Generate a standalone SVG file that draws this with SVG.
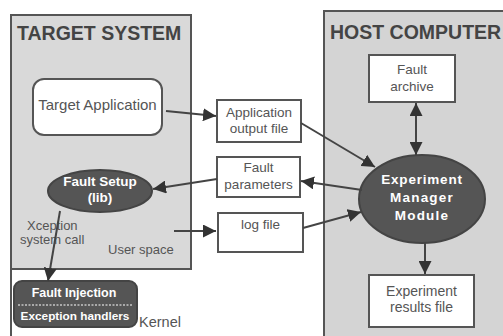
<svg xmlns="http://www.w3.org/2000/svg" width="503" height="336" viewBox="0 0 503 336">
<style>
.t{font-family:"Liberation Sans",Arial,sans-serif;fill:#555;}
.title{font-family:"Liberation Sans",Arial,sans-serif;font-weight:bold;font-size:19.5px;fill:#444;}
.w{font-family:"Liberation Sans",Arial,sans-serif;font-weight:bold;fill:#fff;}
.box{fill:#fff;stroke:#555;stroke-width:2;}
.dark{fill:#555;stroke:#444;stroke-width:2;}
.c{stroke:#444;stroke-width:2;fill:none;}
</style>
<defs>
<marker id="ah" viewBox="0 0 10 10" refX="10" refY="5" markerWidth="6.5" markerHeight="6.5" orient="auto" markerUnits="strokeWidth">
<path d="M0,0 L10,5 L0,10 z" fill="#333"/>
</marker>
<marker id="as" viewBox="0 0 10 10" refX="0" refY="5" markerWidth="6.5" markerHeight="6.5" orient="auto" markerUnits="strokeWidth">
<path d="M10,0 L0,5 L10,10 z" fill="#333"/>
</marker>
</defs>
<rect width="503" height="336" fill="#fff"/>
<g id="target-system">
<rect x="11" y="15" width="180" height="254" fill="#d9d9d9" stroke="#555" stroke-width="2"/>
<path d="M11,269 V336" stroke="#555" stroke-width="2"/>
<text class="title" x="17" y="40">TARGET SYSTEM</text>
<text class="t" x="108" y="254" font-size="13">User space</text>
<text class="t" x="27" y="230" font-size="13">Xception</text>
<text class="t" x="20" y="244" font-size="13">system call</text>
<text class="t" x="139" y="327" font-size="14.5">Kernel</text>
</g>
<g id="host-computer">
<rect x="324" y="11" width="190" height="330" fill="#d4d4d4" stroke="#555" stroke-width="2"/>
<text class="title" x="330" y="39">HOST COMPUTER</text>
</g>
<g id="target-application">
<rect class="box" x="33" y="79" width="129" height="56" rx="11"/>
<text class="t" x="97.5" y="110" font-size="15" text-anchor="middle">Target Application</text>
</g>
<g id="fault-setup">
<ellipse class="dark" cx="100" cy="191" rx="52" ry="21"/>
<text class="w" x="100" y="186" font-size="13.5" text-anchor="middle">Fault Setup</text>
<text class="w" x="100" y="202" font-size="13.5" text-anchor="middle">(lib)</text>
</g>
<g id="kernel-box">
<rect class="dark" x="14" y="281" width="123" height="46" rx="8"/>
<text class="w" x="74" y="297" font-size="12.5" text-anchor="middle">Fault Injection</text>
<line x1="18" y1="305" x2="133" y2="305" stroke="#fff" stroke-width="1.2" stroke-dasharray="2,1.5"/>
<text class="w" x="75" y="320" font-size="11.8" text-anchor="middle">Exception handlers</text>
</g>
<g id="app-output-file">
<rect class="box" x="217" y="100" width="84" height="42"/>
<text class="t" x="259" y="117" font-size="13.5" text-anchor="middle">Application</text>
<text class="t" x="259" y="133" font-size="13.5" text-anchor="middle">output file</text>
</g>
<g id="fault-parameters">
<rect class="box" x="217" y="157" width="83" height="40"/>
<text class="t" x="258.5" y="172" font-size="13.5" text-anchor="middle">Fault</text>
<text class="t" x="258.5" y="189" font-size="13.5" text-anchor="middle">parameters</text>
</g>
<g id="log-file">
<rect class="box" x="218" y="213" width="85" height="39"/>
<text class="t" x="260.5" y="229" font-size="13.5" text-anchor="middle">log file</text>
</g>
<g id="fault-archive">
<rect class="box" x="369" y="55" width="86" height="47"/>
<text class="t" x="412" y="74" font-size="13.5" text-anchor="middle">Fault</text>
<text class="t" x="412" y="91" font-size="13.5" text-anchor="middle">archive</text>
</g>
<g id="experiment-manager">
<ellipse class="dark" cx="422" cy="199" rx="63" ry="44"/>
<text class="w" x="422" y="184" font-size="13.5" text-anchor="middle" letter-spacing="0.8">Experiment</text>
<text class="w" x="422" y="202" font-size="13.5" text-anchor="middle" letter-spacing="1.2">Manager</text>
<text class="w" x="422" y="220" font-size="13.5" text-anchor="middle" letter-spacing="1.2">Module</text>
</g>
<g id="experiment-results">
<rect class="box" x="369" y="275" width="105" height="52"/>
<text class="t" x="421.5" y="296" font-size="14" text-anchor="middle">Experiment</text>
<text class="t" x="421.5" y="312" font-size="14" text-anchor="middle">results file</text>
</g>
<g id="connectors">
<line class="c" x1="166" y1="111" x2="216" y2="116" marker-end="url(#ah)"/>
<line class="c" x1="301" y1="123" x2="375" y2="167" marker-end="url(#ah)"/>
<line class="c" x1="362" y1="190" x2="301" y2="181" marker-end="url(#ah)"/>
<line class="c" x1="217" y1="179" x2="153" y2="189" marker-end="url(#ah)"/>
<line class="c" x1="174" y1="231" x2="216" y2="231" marker-end="url(#ah)"/>
<line class="c" x1="303" y1="228" x2="361" y2="212" marker-end="url(#ah)"/>
<line class="c" x1="416" y1="103" x2="416" y2="155" marker-start="url(#as)" marker-end="url(#ah)"/>
<line class="c" x1="425" y1="243" x2="425" y2="274" marker-end="url(#ah)"/>
<line class="c" x1="60" y1="211" x2="48" y2="281" marker-end="url(#ah)"/>
</g>
</svg>
